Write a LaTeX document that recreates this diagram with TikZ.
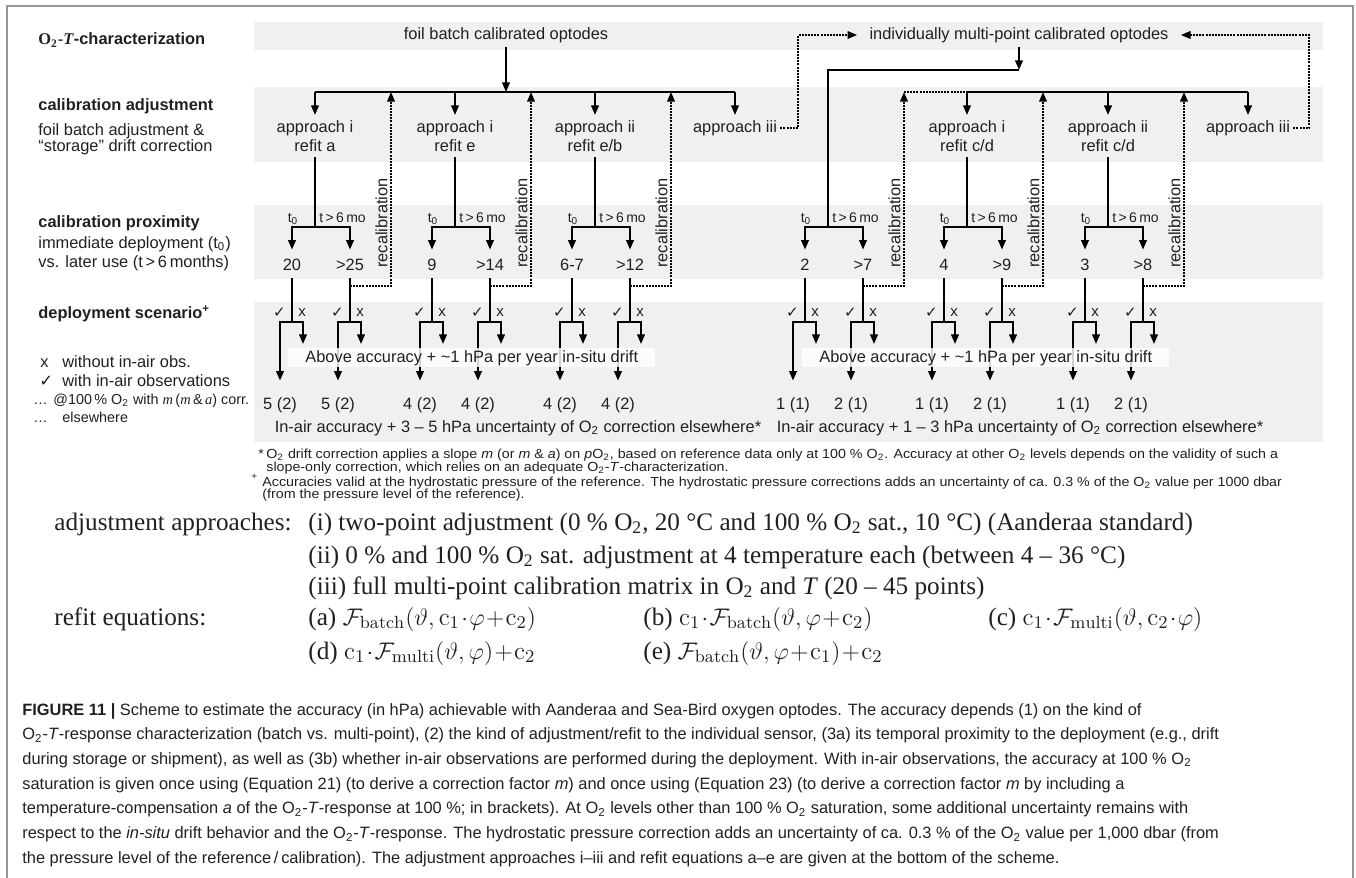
\documentclass[tikz,border=0pt]{standalone}
\usepackage{fontspec}
\usepackage{amsmath}
\newfontfamily\helv{Liberation Sans}
\newfontfamily\helvwide[FakeStretch=1.08]{Liberation Sans}
\newfontfamily\tnr{Liberation Serif}
\newfontfamily\dejavu{DejaVu Sans}
\usetikzlibrary{arrows.meta, positioning, calc}
\definecolor{bandgray}{RGB}{239,240,239}
\definecolor{framegray}{RGB}{150,150,150}
\definecolor{inkblack}{RGB}{35,31,32}
\newcommand{\Otwo}{O\textsubscript{2}}
\newcommand{\chk}{{\dejavu ✓}}

\tikzset{
  sans/.style={font=\helv\fontsize{8.2}{9.5}\selectfont, inner sep=0pt, text=inkblack},
  heading/.style={sans, font=\helv\bfseries\fontsize{8.2}{9.5}\selectfont, anchor=base west},
  lefttxt/.style={sans, anchor=base west},
  smalltxt/.style={sans, font=\helv\fontsize{7.2}{8}\selectfont, anchor=base west},
  apnode/.style={sans, align=center, inner ysep=2.5pt, anchor=north},
  valnode/.style={sans, text height=6pt, text depth=0pt, inner ysep=4pt, inner xsep=1pt, anchor=base},
  resnode/.style={sans, text height=6pt, text depth=0pt, inner ysep=8pt, inner xsep=1pt, anchor=base},
  tlabel/.style={sans, font=\helv\fontsize{7}{8}\selectfont},
  marktxt/.style={sans, font=\helv\fontsize{7.5}{8}\selectfont},
  abovebox/.style={sans, fill=white, fill opacity=0.82, text opacity=1, text height=6pt, text depth=1.8pt, inner ysep=0.85pt, inner xsep=8.5pt, anchor=north west},
  footnote/.style={sans, font=\helvwide\fontsize{6.6}{7}\selectfont, text height=4.8pt, text depth=1.2pt, anchor=base west},
  eqtxt/.style={font=\tnr\fontsize{12.6}{15}\selectfont, inner sep=0pt, text=inkblack, anchor=base west},
  capline/.style={sans, font=\helv\fontsize{8.2}{9.5}\selectfont, anchor=base west},
  link/.style={line width=1pt},
  arr/.style={link, -{Triangle[length=4.8pt,width=3.8pt]}},
  dotline/.style={line width=0.85pt, dash pattern=on 1pt off 0.55pt},
  dotarr/.style={dotline, -{Triangle[length=4.8pt,width=3.8pt]}},
}

\begin{document}
\begin{tikzpicture}[x={(0.5pt,0)}, y={(0,-0.5pt)}]
\useasboundingbox (0,0) rectangle (1356,878);
% frame and grey bands
\draw[framegray, line width=1pt] (7,878) -- (7,6) -- (1353,6) -- (1353,878);
\foreach \ya/\yb in {22/50, 87/162, 205/279, 302/442}
  \fill[bandgray] (254,\ya) rectangle (1323,\yb);

% row labels
\node[heading] (hchar) at (38,45) {{\tnr\bfseries O\textsubscript{2}-\textit{T}}-characterization};
\node[heading] (hadj) at (38,110) {calibration adjustment};
\node[lefttxt] (hadja) at (38,135) {foil batch adjustment \&};
\node[lefttxt] (hadjb) at (38,151) {“storage” drift correction};
\node[heading] (hprox) at (38,227) {calibration proximity};
\node[lefttxt] (hproxa) at (38,248) {immediate deployment (t\textsubscript{0})};
\node[lefttxt] (hproxb) at (38,267) {vs. later use (t\,>\,6\,months)};
\node[heading] (hdep) at (38,318) {deployment scenario\textsuperscript{+}};
\node[lefttxt] (keyx) at (40,367) {x};
\node[lefttxt] (keyxt) at (62,367) {without in-air obs.};
\node[lefttxt] (keyc) at (39,386) {\chk};
\node[lefttxt] (keyct) at (62,386) {with in-air observations};
\node[smalltxt] (keym) at (33,404) {…};
\node[smalltxt] (keymt) at (53,404) {@100\,\% \Otwo{} with {\tnr\itshape m}\,({\tnr\itshape m}\,\&\,{\tnr\itshape a}) corr.};
\node[smalltxt] (keye) at (33,422) {…};
\node[smalltxt] (keyet) at (62,422) {elsewhere};

% characterization
\node[sans, inner xsep=6pt, inner ysep=2pt] (foil) at (506,35) {foil batch calibrated optodes};
\node[sans, inner xsep=6pt, inner ysep=2pt] (indiv) at (1019,35) {individually multi-point calibrated optodes};

% adjustment approaches
\node[apnode] (apA) at (315,115) {approach i\\refit a};
\node[apnode] (apB) at (455,115) {approach i\\refit e};
\node[apnode] (apC) at (595,115) {approach ii\\refit e/b};
\node[apnode] (apG) at (735,115) {approach iii};
\node[inner sep=0pt] (apD) at (828,70) {};
\node[apnode] (apE) at (967,115) {approach i\\refit c/d};
\node[apnode] (apF) at (1108,115) {approach ii\\refit c/d};
\node[apnode] (apH) at (1248,115) {approach iii};

\coordinate (barL) at (315,92);
\coordinate (barLe) at (735,92);
\coordinate (barR) at (967,92);
\coordinate (barRe) at (1248,92);
\draw[link] (barL) -- (barLe);
\draw[link] (barR) -- (barRe);
\draw[arr] (foil) -- (foil |- barL);
\foreach \g in {A,B,C,G}
  \draw[arr] (ap\g.north |- barL) -- (ap\g);
\foreach \g in {E,F,H}
  \draw[arr] (ap\g.north |- barR) -- (ap\g);
\draw[dotarr] ([xshift=1.5pt]apG.east) -- ++(18,0) |- (indiv.west);
\draw[dotarr] ([xshift=1.5pt]apH.east) -- ++(16,0) |- (indiv.east);

% proximity and deployment branches
\foreach \c/\va/\vb/\ra/\rb/\n in {315/20/{>25}/{5 (2)}/{5 (2)}/A,
    455/9/{>14}/{4 (2)}/{4 (2)}/B, 595/{6-7}/{>12}/{4 (2)}/{4 (2)}/C,
    828/2/{>7}/{1 (1)}/{2 (1)}/D, 967/4/{>9}/{1 (1)}/{2 (1)}/E,
    1108/3/{>8}/{1 (1)}/{2 (1)}/F}{
  \coordinate (sp\n) at (\c,227);
  \node[valnode] (va\n) at (\c-23,270) {\va};
  \node[valnode] (vb\n) at (\c+35,270) {\vb};
  \node[tlabel, anchor=base] (ta\n) at (\c-22,222) {t\textsubscript{0}};
  \node[tlabel, anchor=base west] (tb\n) at (\c+4,222) {t\,>\,6\,mo};
  \draw[link] (ap\n) -- (sp\n);
  \draw[arr] (sp\n) -| (va\n);
  \draw[arr] (sp\n) -| (vb\n);
  \coordinate (sa\n) at (\c-23,322);
  \coordinate (sb\n) at (\c+35,322);
  \coordinate (xa\n) at (\c-12,344);
  \coordinate (xb\n) at (\c+46,344);
  \node[resnode] (ra\n) at (\c-35,409) {\ra};
  \node[resnode] (rb\n) at (\c+23,409) {\rb};
  \draw[link] (va\n) -- (sa\n);
  \draw[link] (vb\n) -- (sb\n);
  \draw[arr] (sa\n) -| (ra\n);
  \draw[arr] (sa\n) -| (xa\n);
  \draw[arr] (sb\n) -| (rb\n);
  \draw[arr] (sb\n) -| (xb\n);
  \node[marktxt, anchor=base east] (chka\n) at (\c-29,317) {\chk};
  \node[marktxt, anchor=base west] (crsa\n) at (\c-17,316) {x};
  \node[marktxt, anchor=base east] (chkb\n) at (\c+29,317) {\chk};
  \node[marktxt, anchor=base west] (crsb\n) at (\c+41,316) {x};
  % recalibration loop
  \coordinate (rc\n) at (\c+35,286);
  \coordinate (rt\n) at (\c+76,92);
  \draw[dotarr] (rc\n) -| (rt\n);
  \node[sans, rotate=90, anchor=south west] (rl\n) at (\c+73,268) {recalibration};
}
\draw[arr] (indiv) -- (indiv |- apD);
\draw[link] (indiv |- apD) -- (apD.center) -- (spD);
\draw[dotline] (rtD) -- (barR);

% in-situ drift boxes and in-air lines
\node[abovebox] (aboveL) at (288,348) {Above accuracy + \textasciitilde1 hPa per year in-situ drift};
\node[abovebox] (aboveR) at (802,348) {Above accuracy + \textasciitilde1 hPa per year in-situ drift};
\node[sans, anchor=base] (inairL) at (518,432) {In-air accuracy + 3 – 5 hPa uncertainty of \Otwo{} correction elsewhere*};
\node[sans, anchor=base] (inairR) at (1020,432) {In-air accuracy + 1 – 3 hPa uncertainty of \Otwo{} correction elsewhere*};

% footnotes
\node[footnote] (fnam) at (258,458) {*};
\node[footnote] (fna) at (266,458) {\Otwo{} drift correction applies a slope \textit{m} (or \textit{m} \& \textit{a}) on \textit{p}\Otwo, based on reference data only at 100 \% \Otwo. Accuracy at other \Otwo{} levels depends on the validity of such a};
\node[footnote] (fnb) at (266,471) {slope-only correction, which relies on an adequate \Otwo-\textit{T}-characterization.};
\node[footnote] (fncm) at (251,486) {\textsuperscript{+}};
\node[footnote] (fnc) at (262,486) {Accuracies valid at the hydrostatic pressure of the reference. The hydrostatic pressure corrections adds an uncertainty of ca. 0.3 \% of the \Otwo{} value per 1000 dbar};
\node[footnote] (fnd) at (262,498) {(from the pressure level of the reference).};

% approaches and refit equations
\node[eqtxt] (adjlbl) at (54,530) {adjustment approaches:};
\node[eqtxt] (adji) at (308,530) {(i) two-point adjustment (0 \% O\textsubscript{2}, 20 °C and 100 \% O\textsubscript{2} sat., 10 °C) (Aanderaa standard)};
\node[eqtxt] (adjii) at (308,563) {(ii) 0 \% and 100 \% O\textsubscript{2} sat. adjustment at 4 temperature each (between 4 – 36 °C)};
\node[eqtxt] (adjiii) at (308,594) {(iii) full multi-point calibration matrix in O\textsubscript{2} and \textit{T} (20 – 45 points)};
\node[eqtxt] (reflbl) at (54,625) {refit equations:};
\node[eqtxt] (refa) at (308,625) {(a) $\mathcal{F}_{\mathrm{batch}}(\vartheta,\mathrm{c}_1\!\cdot\!\varphi\!+\!\mathrm{c}_2)$};
\node[eqtxt] (refb) at (643,625) {(b) $\mathrm{c}_1\!\cdot\!\mathcal{F}_{\mathrm{batch}}(\vartheta,\varphi\!+\!\mathrm{c}_2)$};
\node[eqtxt] (refc) at (988,625) {(c) $\mathrm{c}_1\!\cdot\!\mathcal{F}_{\mathrm{multi}}(\vartheta,\mathrm{c}_2\!\cdot\!\varphi)$};
\node[eqtxt] (refd) at (308,659) {(d) $\mathrm{c}_1\!\cdot\!\mathcal{F}_{\mathrm{multi}}(\vartheta,\varphi)\!+\!\mathrm{c}_2$};
\node[eqtxt] (refe) at (643,659) {(e) $\mathcal{F}_{\mathrm{batch}}(\vartheta,\varphi\!+\!\mathrm{c}_1)\!+\!\mathrm{c}_2$};

% caption
\foreach \t [count=\i] in {
  {{\bfseries FIGURE 11 |} Scheme to estimate the accuracy (in hPa) achievable with Aanderaa and Sea-Bird oxygen optodes. The accuracy depends (1) on the kind of},
  {\Otwo-\textit{T}-response characterization (batch vs. multi-point), (2) the kind of adjustment/refit to the individual sensor, (3a) its temporal proximity to the deployment (e.g., drift},
  {during storage or shipment), as well as (3b) whether in-air observations are performed during the deployment. With in-air observations, the accuracy at 100 \% \Otwo},
  {saturation is given once using (Equation 21) (to derive a correction factor \textit{m}) and once using (Equation 23) (to derive a correction factor \textit{m} by including a},
  {temperature-compensation \textit{a} of the \Otwo-\textit{T}-response at 100 \%; in brackets). At \Otwo{} levels other than 100 \% \Otwo{} saturation, some additional uncertainty remains with},
  {respect to the \textit{in-situ} drift behavior and the \Otwo-\textit{T}-response. The hydrostatic pressure correction adds an uncertainty of ca. 0.3 \% of the \Otwo{} value per 1,000 dbar (from},
  {the pressure level of the reference\,/\,calibration). The adjustment approaches i–iii and refit equations a–e are given at the bottom of the scheme.}}
  \node[capline] (cap\i) at (22,715+24.7*\i-24.7) {\t};
\end{tikzpicture}
\end{document}
